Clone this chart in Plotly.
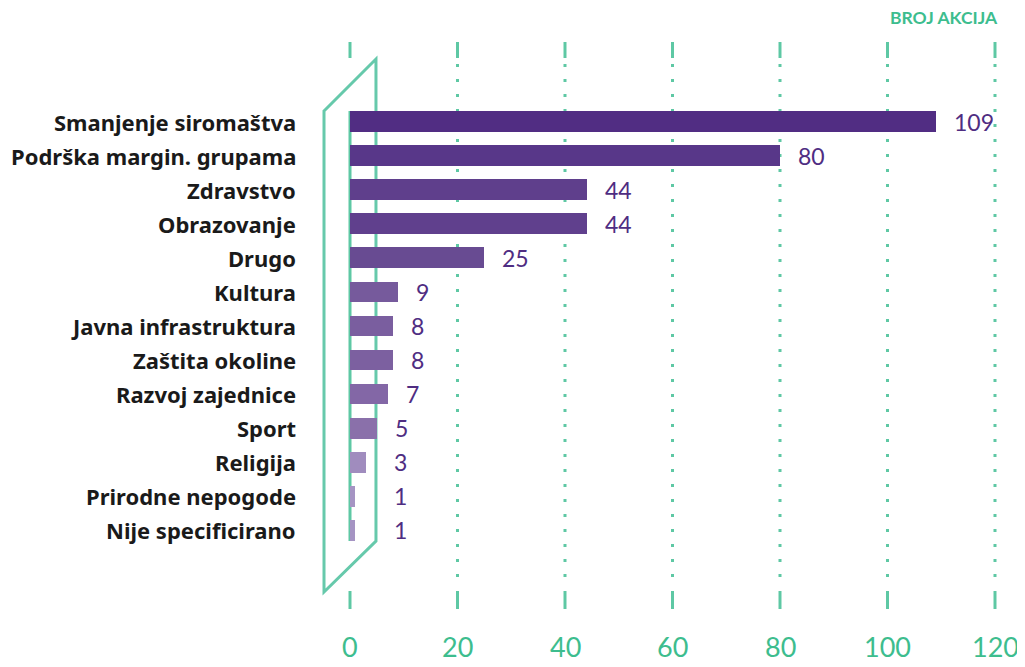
import plotly.graph_objects as go

categories = ["Smanjenje siromaštva", "Podrška margin. grupama", "Zdravstvo", "Obrazovanje",
              "Drugo", "Kultura", "Javna infrastruktura", "Zaštita okoline",
              "Razvoj zajednice", "Sport", "Religija", "Prirodne nepogode", "Nije specificirano"]
values = [109, 80, 44, 44, 25, 9, 8, 8, 7, 5, 3, 1, 1]
bar_colors = ["#512d83", "#583789", "#5f3f8c", "#60408d", "#684b92", "#765a9c", "#7a5e9f",
              "#7c60a0", "#8367a6", "#8a70aa", "#a08cbe", "#a594c3", "#a594c3"]
tick_vals = [0, 20, 40, 60, 80, 100, 120]

GREEN = "#5ec8a4"
TICK_GREEN = "#3dbd8e"
PURPLE = "#4f2d82"

OFF = 8  # page body margin
W, H = 1025, 667
px_per = (995 - 350) / 120
x0pix = 350 - OFF
x_range = [-x0pix / px_per, (W - x0pix) / px_per]
row0, step = 121.5 - OFF, 34.08
y_range = [(H - row0) / step, -row0 / step]


def py(p):
    return 1 - (p - OFF) / H


def pxp(p):
    return (p - OFF) / W


def vx(p):
    return (p - 350) / px_per


rows = list(range(len(categories)))

fig = go.Figure()
fig.add_trace(go.Bar(
    y=rows, x=values, orientation="h", width=0.607,
    marker=dict(color=bar_colors, line=dict(width=0)),
    hoverinfo="skip"
))

shapes = []
for t in tick_vals:
    # short solid dashes above and below
    shapes.append(dict(type="line", xref="x", yref="paper", x0=t, x1=t, y0=py(42), y1=py(58),
                       line=dict(color=GREEN, width=3), layer="below"))
    shapes.append(dict(type="line", xref="x", yref="paper", x0=t, x1=t, y0=py(591), y1=py(609),
                       line=dict(color=GREEN, width=3), layer="below"))
    if t != 0:
        shapes.append(dict(type="line", xref="x", yref="paper", x0=t, x1=t, y0=py(64), y1=py(580),
                           line=dict(color=GREEN, width=3, dash="3px,12px"), layer="below"))

# zero line + parallelogram frame
shapes.append(dict(type="line", xref="x", yref="paper", x0=0, x1=0, y0=py(111), y1=py(541),
                   line=dict(color=GREEN, width=3), layer="below"))
shapes.append(dict(type="path", xref="paper", yref="paper",
                   path="M {:.4f},{:.4f} L {:.4f},{:.4f} L {:.4f},{:.4f} L {:.4f},{:.4f} Z".format(
                       pxp(324), py(111), pxp(376), py(59), pxp(376), py(541), pxp(324), py(592)),
                   line=dict(color="#66c9ab", width=3), layer="below"))

annotations = []
frame_edge = vx(376)
for i, (c, v) in enumerate(zip(categories, values)):
    annotations.append(dict(x=vx(298), y=i, xref="x", yref="y", text="<b>" + c + "</b>",
                            showarrow=False, xanchor="right", yanchor="middle", yshift=0,
                            font=dict(family="Noto Sans", size=22, color="#1a1a1a")))
    # small values: label kept clear of the frame edge
    annotations.append(dict(x=max(v, frame_edge), y=i, xref="x", yref="y", text=str(v), xshift=16,
                            showarrow=False, xanchor="left", yanchor="middle",
                            font=dict(family="Lato", size=23, color=PURPLE)))
for t in tick_vals:
    annotations.append(dict(x=t, y=py(646), xref="x", yref="paper", text=str(t),
                            showarrow=False, xanchor="center", yanchor="middle",
                            font=dict(family="Lato", size=27, color=TICK_GREEN)))
annotations.append(dict(x=pxp(1000), y=py(18), xref="paper", yref="paper", text="<b>BROJ AKCIJA</b>",
                        showarrow=False, xanchor="right", yanchor="middle",
                        font=dict(family="Lato", size=17.5, color=TICK_GREEN)))

fig.update_layout(
    width=W, height=H,
    margin=dict(l=0, r=0, t=0, b=0),
    paper_bgcolor="white", plot_bgcolor="white",
    showlegend=False,
    xaxis=dict(range=x_range, visible=False, fixedrange=True),
    yaxis=dict(range=y_range, visible=False, fixedrange=True),
    shapes=shapes, annotations=annotations,
    bargap=0
)

fig.write_html("out.html")
